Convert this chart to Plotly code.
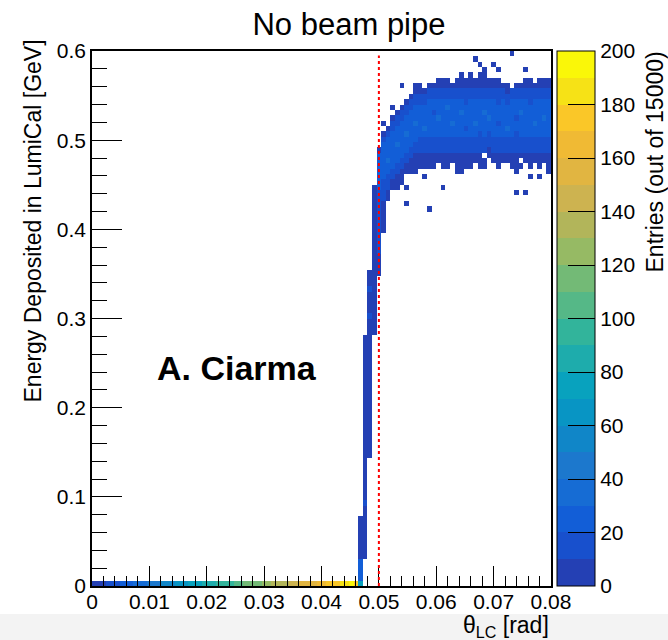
import plotly.graph_objects as go

# ---------------- data ----------------
N_XBINS, X_MAX = 100, 0.08      # theta_LC binning
N_YBINS, Y_MAX = 100, 0.6       # energy binning
CUT_THETA = 0.05                # red dotted line

# energy bin 0 (E ~ 0), theta bins 0..58
bottom_row_counts = [2, 6, 7, 12, 14, 19, 21, 26, 27, 32,
                     34, 39, 40, 46, 47, 52, 53, 59, 60, 65,
                     67, 72, 73, 78, 80, 85, 86, 91, 93, 98,
                     99, 105, 106, 111, 112, 118, 119, 124, 126, 131,
                     132, 137, 139, 144, 145, 151, 152, 157, 158, 164,
                     165, 170, 172, 177, 182, 187, 191, 178, 75]

# steep rise just below the cut: segments (theta bin, lowest E bin, highest E bin, count)
strip_col   = [58, 58, 59, 59, 59, 60, 60, 60, 61, 63]
strip_jlo   = [1, 5, 5, 15, 16, 24, 50, 55, 47, 66]
strip_jhi   = [4, 12, 46, 15, 46, 58, 50, 55, 74, 73]
strip_count = [24, 5, 5, 15, 5, 4, 14, 15, 5, 6]

# plateau band, theta bins 62..99: E-bin ranges of outer / middle / core levels
band_col  = list(range(62, 100))
dark_lo   = [58, 66, 72, 74, 74, 75, 77, 77, 77, 78, 78, 78, 78, 79, 78, 78, 79, 77, 77,
             78, 78, 79, 78, 78, 79, 79, 78, 78, 79, 78, 77, 78, 79, 78, 79, 78, 79, 78]
dark_hi   = [81, 84, 85, 87, 88, 89, 90, 91, 93, 93, 92, 93, 93, 94, 94, 94, 93, 94, 94,
             94, 94, 94, 95, 95, 94, 94, 94, 93, 93, 93, 93, 93, 94, 94, 93, 94, 94, 94]
mid_lo    = [62, 72, 74, 76, 77, 78, 79, 80, 81, 81, 81, 81, 81, 81, 81, 81, 81, 81, 81,
             81, 81, 81, 81, 81, 82, 81, 81, 81, 81, 81, 81, 81, 81, 81, 81, 81, 81, 81]
mid_hi    = [80, 83, 84, 86, 87, 88, 89, 90, 91, 91, 91, 92, 92, 92, 92, 92, 92, 92, 92,
             92, 92, 92, 92, 92, 92, 92, 92, 92, 91, 92, 92, 92, 92, 92, 92, 92, 92, 92]
core_lo   = [74, 76, 77, 78, 79, 80, 81, 82, 83, 84, 84, 84, 84, 84, 84, 84, 84, 84, 84,
             84, 84, 84, 85, 84, 85, 84, 84, 84, 84, 84, 85, 84, 84, 84, 84, 84, 84, 84]
core_hi   = [80, 82, 83, 84, 85, 86, 87, 88, 89, 89, 89, 90, 90, 90, 90, 90, 90, 90, 90,
             89, 90, 90, 90, 90, 90, 90, 89, 90, 89, 90, 90, 90, 90, 89, 90, 90, 90, 90]
dark_count = [4, 5, 4, 4, 5, 4, 4, 5, 4, 4, 5, 4, 4, 5, 4, 4, 5, 4, 4,
              5, 4, 4, 5, 4, 4, 5, 4, 4, 5, 4, 4, 5, 4, 4, 5, 4, 4, 5]
mid_count  = [12, 14, 15, 14, 15, 14, 13, 15, 14, 14, 15, 13, 14, 15, 14, 13, 15, 14, 14,
              15, 13, 14, 15, 14, 13, 15, 14, 14, 15, 13, 14, 15, 14, 13, 15, 14, 14, 15]
core_count = [22, 26, 27, 25, 28, 26, 27, 25, 26, 28, 25, 27, 26, 25, 28, 26, 27, 25, 26,
              28, 25, 27, 26, 25, 28, 26, 27, 25, 26, 28, 25, 27, 26, 25, 28, 26, 27, 25]

# individual cells: brighter / dimmer spots inside the band
spot_col   = [64, 66, 70, 72, 75, 78, 80, 83, 86, 90, 93, 96, 98, 74, 81, 88, 92, 68, 77, 85]
spot_row   = [79, 82, 86, 85, 87, 86, 88, 86, 87, 85, 88, 86, 87, 88, 85, 86, 87, 84, 89, 88]
spot_count = [38, 35, 36, 34, 38, 35, 34, 37, 36, 35, 36, 34, 35, 17, 18, 18, 17, 34, 33, 36]

# isolated single entries outside the band
lone_col = [63, 65, 67, 83, 84, 87, 88, 91, 94, 85, 68, 68, 72, 73, 76, 92, 94, 95, 97, 99, 80, 82]
lone_row = [86, 89, 93, 98, 97, 97, 96, 99, 96, 96, 74, 71, 76, 70, 74, 73, 73, 76, 76, 77, 95, 95]

# empty cells inside the band edges
hole_col = [85, 86, 91, 93, 89]
hole_row = [80, 79, 93, 79, 78]

# colour palette (20 levels of 10 entries) and axis ticks
palette = ["rgb(36,64,180)", "rgb(24,80,205)", "rgb(18,94,215)", "rgb(22,108,212)",
           "rgb(28,120,205)", "rgb(16,134,200)", "rgb(8,149,196)", "rgb(8,162,190)",
           "rgb(30,172,172)", "rgb(50,180,155)", "rgb(85,184,135)", "rgb(115,186,118)",
           "rgb(150,186,100)", "rgb(178,181,90)", "rgb(205,179,80)", "rgb(225,181,65)",
           "rgb(240,186,52)", "rgb(250,199,40)", "rgb(246,226,22)", "rgb(250,247,8)"]
x_ticks = [0, 0.01, 0.02, 0.03, 0.04, 0.05, 0.06, 0.07, 0.08]
x_ticktext = ["0", "0.01", "0.02", "0.03", "0.04", "0.05", "0.06", "0.07", "0.08"]
y_ticks = [0, 0.1, 0.2, 0.3, 0.4, 0.5, 0.6]
y_ticktext = ["0", "0.1", "0.2", "0.3", "0.4", "0.5", "0.6"]
z_ticks = [0, 20, 40, 60, 80, 100, 120, 140, 160, 180, 200]

# ---------------- build histogram matrix ----------------
dx = X_MAX / N_XBINS
dy = Y_MAX / N_YBINS
x_centers = [dx * (i + 0.5) for i in range(N_XBINS)]
y_centers = [dy * (j + 0.5) for j in range(N_YBINS)]
z = [[None] * N_XBINS for _ in range(N_YBINS)]

for i, c in enumerate(bottom_row_counts):
    z[0][i] = c
for c, lo, hi, n in zip(strip_col, strip_jlo, strip_jhi, strip_count):
    for j in range(lo, hi + 1):
        z[j][c] = n
for k, c in enumerate(band_col):
    for j in range(dark_lo[k], dark_hi[k] + 1):
        z[j][c] = dark_count[k]
    for j in range(mid_lo[k], mid_hi[k] + 1):
        z[j][c] = mid_count[k]
    for j in range(core_lo[k], core_hi[k] + 1):
        z[j][c] = core_count[k]
for c, j, n in zip(spot_col, spot_row, spot_count):
    z[j][c] = n
for c, j in zip(lone_col, lone_row):
    z[j][c] = 1
for c, j in zip(hole_col, hole_row):
    z[j][c] = None

colorscale = []
nlev = len(palette)
for k, col in enumerate(palette):
    colorscale.append([k / nlev, col])
    colorscale.append([(k + 1) / nlev, col])

FONT = "Liberation Sans, Arial, Helvetica, sans-serif"

fig = go.Figure(go.Heatmap(
    x=x_centers, y=y_centers, z=z,
    zmin=0, zmax=200, colorscale=colorscale, zsmooth=False,
    hoverongaps=False,
    colorbar=dict(
        x=1.013, xanchor="left", y=0.5, yanchor="middle",
        len=1.0, lenmode="fraction", thickness=38, thicknessmode="pixels",
        outlinewidth=1, outlinecolor="black",
        tickmode="array", tickvals=z_ticks,
        ticks="inside", ticklen=27, tickwidth=1, tickcolor="black",
        tickfont=dict(size=21, family=FONT, color="black"),
        ypad=0, xpad=0,
    ),
))

fig.add_shape(type="line", xref="x", yref="y",
              x0=CUT_THETA, x1=CUT_THETA, y0=0, y1=0.595,
              line=dict(color="red", width=2, dash="dot"))

# light grey strip at the very bottom of the picture
fig.add_shape(type="rect", xref="paper", yref="paper",
              x0=-92 / 459, x1=576 / 459, y0=-54 / 535, y1=-28 / 535,
              fillcolor="#f3f3f3", line=dict(width=0), layer="below")

fig.update_layout(
    width=668, height=640,
    margin=dict(l=92, r=117, t=51, b=54, autoexpand=False),
    plot_bgcolor="white", paper_bgcolor="white",
    font=dict(family=FONT, color="black"),
    title=dict(text="No beam pipe", x=349 / 668, xanchor="center",
               y=1 - 24 / 640, yanchor="middle",
               font=dict(size=31, family=FONT, color="black")),
    xaxis=dict(range=[0, X_MAX], showgrid=False, zeroline=False,
               showline=True, linecolor="black", linewidth=1.5, mirror=True,
               tickmode="array", tickvals=x_ticks, ticktext=x_ticktext,
               ticks="inside", ticklen=20, tickwidth=1, tickcolor="black",
               ticklabelstandoff=-4,
               tickfont=dict(size=21, family=FONT, color="black"),
               minor=dict(ticks="inside", ticklen=10, tickwidth=1, tickcolor="black",
                          dtick=0.002, tick0=0, showgrid=False)),
    yaxis=dict(range=[0, Y_MAX], showgrid=False, zeroline=False,
               showline=True, linecolor="black", linewidth=1.5, mirror=True,
               tickmode="array", tickvals=y_ticks, ticktext=y_ticktext,
               ticks="inside", ticklen=30, tickwidth=1, tickcolor="black",
               tickfont=dict(size=21, family=FONT, color="black"),
               minor=dict(ticks="inside", ticklen=15, tickwidth=1, tickcolor="black",
                          dtick=0.02, tick0=0, showgrid=False)),
    annotations=[
        dict(text="Energy Deposited in LumiCal [GeV]", textangle=-90,
             xref="paper", yref="paper", x=(33 - 92) / 459, y=(586 - 38) / 535,
             xanchor="center", yanchor="top", showarrow=False,
             font=dict(size=23, family=FONT, color="black")),
        dict(text="Entries (out of 15000)", textangle=-90,
             xref="paper", yref="paper", x=(654 - 92) / 459, y=(586 - 50) / 535,
             xanchor="center", yanchor="top", showarrow=False,
             font=dict(size=23, family=FONT, color="black")),
        dict(text="θ<sub>LC</sub> [rad]",
             xref="paper", yref="paper", x=1.0, y=-(610 - 586) / 535,
             xanchor="right", yanchor="top", showarrow=False,
             font=dict(size=23, family=FONT, color="black")),
        dict(text="<b>A. Ciarma</b>",
             xref="x", yref="y", x=0.011, y=0.2445,
             xanchor="left", yanchor="middle", showarrow=False,
             font=dict(size=34, family=FONT, color="black")),
    ],
)

fig.write_html("out.html")
